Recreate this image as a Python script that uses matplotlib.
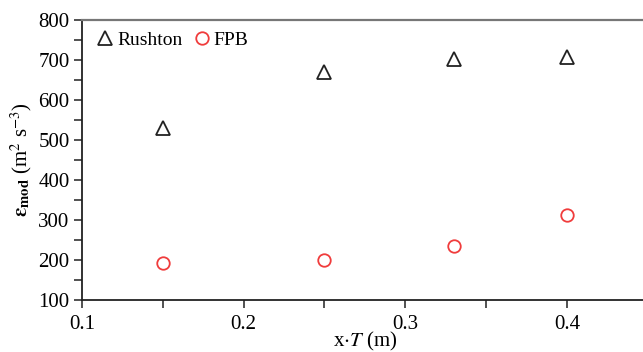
import matplotlib.pyplot as plt
from matplotlib.ticker import MultipleLocator

plt.rcParams['font.family'] = 'Liberation Serif'
plt.rcParams['mathtext.fontset'] = 'stix'

# data
x_pos = [0.15, 0.25, 0.33, 0.40]
rushton = [530, 670, 702, 707]
fpb = [193, 201, 236, 312]

fig = plt.figure(figsize=(6.43, 3.52), dpi=100)
ax = fig.add_axes([0.1275, 0.1477, 0.880, 0.7955])

ax.plot(x_pos, rushton, linestyle='none', marker='^', markersize=10,
        markerfacecolor='none', markeredgecolor='#222222', markeredgewidth=1.3,
        label='Rushton')
ax.plot(x_pos, fpb, linestyle='none', marker='o', markersize=9,
        markerfacecolor='none', markeredgecolor='#f03c3c', markeredgewidth=1.3,
        label='FPB')

ax.set_xlim(0.1, 0.45)
ax.set_ylim(100, 800)
ax.xaxis.set_major_locator(MultipleLocator(0.1))
ax.xaxis.set_minor_locator(MultipleLocator(0.05))
ax.yaxis.set_major_locator(MultipleLocator(100))
ax.yaxis.set_minor_locator(MultipleLocator(50))
ax.set_xticks([0.1, 0.2, 0.3, 0.4])
ax.set_xticklabels(['0.1', '0.2', '0.3', '0.4'])

ax.tick_params(axis='both', which='major', direction='out', length=6, width=1.2,
               labelsize=15, color='#333333')
ax.tick_params(axis='both', which='minor', direction='out', length=6, width=1.2,
               color='#333333')
ax.tick_params(axis='x', pad=5)
ax.tick_params(axis='y', pad=3)

ax.spines['right'].set_visible(False)
for s in ['left', 'bottom']:
    ax.spines[s].set_linewidth(1.3)
    ax.spines[s].set_color('#222222')
ax.spines['top'].set_linewidth(1.6)
ax.spines['top'].set_color('#777777')

ax.set_xlabel(r'x$\cdot$$\mathit{T}$ (m)', fontsize=15, labelpad=-3)
ax.set_ylabel(r'$\boldsymbol{\varepsilon}_{\mathbf{mod}}$ (m$^{2}$ s$^{-3}$)', fontsize=15, labelpad=3)

ax.legend(loc='upper left', frameon=False, fontsize=14, ncol=2,
          handletextpad=0.0, columnspacing=0.4, borderaxespad=0.2,
          handlelength=1.2)

fig.savefig('out.png', dpi=100)
